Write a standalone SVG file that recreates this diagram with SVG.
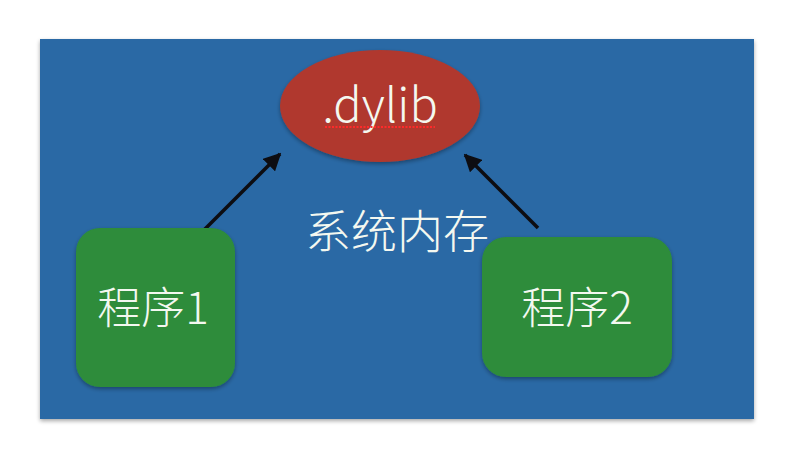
<svg xmlns="http://www.w3.org/2000/svg" width="792" height="462" viewBox="0 0 792 462">
  <defs>
    <filter id="shadow" x="-10%" y="-10%" width="120%" height="120%">
      <feGaussianBlur in="SourceAlpha" stdDeviation="2"/>
      <feOffset dx="0" dy="2"/>
      <feComponentTransfer><feFuncA type="linear" slope="0.35"/></feComponentTransfer>
      <feMerge><feMergeNode/><feMergeNode in="SourceGraphic"/></feMerge>
    </filter>
    <marker id="arrow" viewBox="0 0 10 10" refX="9" refY="5" markerWidth="5" markerHeight="5" orient="auto" markerUnits="strokeWidth">
      <path d="M0,0 L10,5 L0,10 Z" fill="#0d0d12"/>
    </marker>
  </defs>
  <style>
    .label { font-family: "Noto Sans CJK SC", "Noto Sans", "Liberation Sans", sans-serif; font-weight: 300; fill: #f4f8f0; text-anchor: middle; }
    .node { filter: url(#shadow); }
    .conn { stroke: #0d0d12; stroke-width: 3.5; fill: none; marker-end: url(#arrow); }
  </style>
  <rect x="0" y="0" width="792" height="462" fill="#ffffff"/>
  <g id="background">
    <rect x="40" y="39" width="714" height="380" fill="#2b69a5" filter="url(#shadow)"/>
    <text class="label" x="397" y="248" font-size="46">系统内存</text>
  </g>
  <g id="connectors">
    <line class="conn" x1="202" y1="232" x2="280" y2="154"/>
    <line class="conn" x1="538" y1="228" x2="465" y2="155"/>
  </g>
  <g id="dylib">
    <ellipse class="node" cx="380" cy="106" rx="100" ry="56" fill="#b0392d"/>
    <text class="label" x="380" y="122" font-size="47">.dylib</text>
    <line x1="325" y1="127" x2="435" y2="127" stroke="#ff2a2a" stroke-width="2" stroke-dasharray="2,1.5"/>
  </g>
  <g id="program1">
    <rect class="node" x="76" y="228" width="159" height="159" rx="24" fill="#2d8c3a"/>
    <text class="label" x="153" y="324" font-size="44">程序1</text>
  </g>
  <g id="program2">
    <rect class="node" x="482" y="237" width="190" height="140" rx="24" fill="#2d8c3a"/>
    <text class="label" x="577" y="324" font-size="44">程序2</text>
  </g>
</svg>
